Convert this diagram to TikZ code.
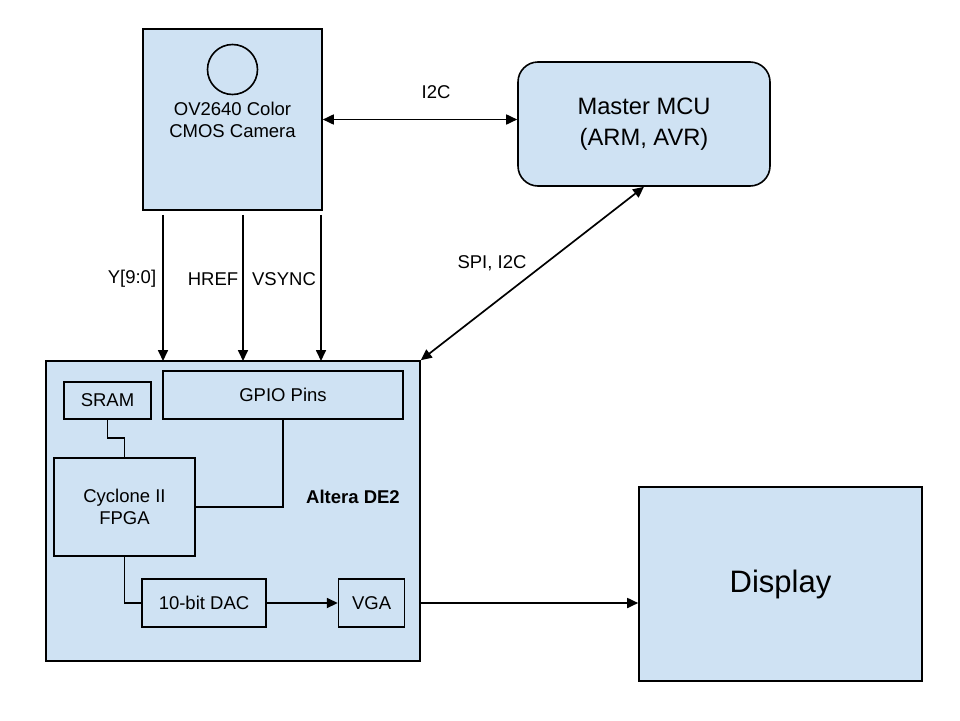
\documentclass[tikz,border=0pt]{standalone}
\usepackage{fontspec}
\setmainfont{Liberation Sans}
\usetikzlibrary{arrows.meta,positioning}
\definecolor{boxblue}{HTML}{CFE2F3}
\tikzset{
  blk/.style={draw,fill=boxblue,line width=1.6pt,inner sep=0pt,align=center,font=\fontsize{18.5}{22}\selectfont},
  lbl/.style={font=\fontsize{18.5}{22}\selectfont},
  wire/.style={line width=1.7pt},
  sig/.style={wire,-{Triangle[length=11pt,width=10pt]}},
  bisig/.style={wire,{Triangle[length=11pt,width=10pt]}-{Triangle[length=11pt,width=10pt]}}
}

\begin{document}
\begin{tikzpicture}[x=1pt,y=-1pt]
            \useasboundingbox (0,0) rectangle (960,720);
                \node[blk,minimum width=179pt,minimum height=181pt] (cam) at (232.5,119.5) {OV2640 Color\\CMOS Camera};
                \node[draw,circle,line width=1.6pt,minimum size=50pt,inner sep=0pt] (lens) at (232.5,69.5) {};
                \node[blk,rounded corners=20pt,minimum width=252pt,minimum height=124pt,font=\fontsize{23.7}{31}\selectfont] (mcu) at (644,124) {Master MCU\\(ARM, AVR)};
                \node[blk,minimum width=374pt,minimum height=300pt] (de2) at (233,511) {};
                \node[lbl,font=\fontsize{18.5}{22}\selectfont\bfseries] (de2lbl) at (353,497) {Altera DE2};
                \node[blk,minimum width=240pt,minimum height=48pt] (gpio) at (283,395) {GPIO Pins};
                \node[blk,minimum width=87pt,minimum height=37pt] (sram) at (107.5,400.5) {SRAM};
                \node[blk,minimum width=141pt,minimum height=98pt] (cyc) at (124.5,507) {Cyclone II\\FPGA};
                \node[blk,minimum width=124pt,minimum height=48pt] (dac) at (204,603) {10-bit DAC};
                \node[blk,minimum width=66pt,minimum height=48pt,right=71pt of dac] (vga) {VGA};
                \node[blk,minimum width=283pt,minimum height=194pt,font=\fontsize{31}{36}\selectfont] (disp) at (780.5,584) {Display};
                \coordinate (pY) at (163,361);
                \coordinate (pH) at (243,361);
                \coordinate (pV) at (321,361);
                \node[lbl] (yl) at (132,279) {Y[9:0]};
                \node[lbl] (hl) at (213,279) {HREF};
                \node[lbl] (vl) at (284,279) {VSYNC};
                \node[lbl] (i2cl) at (436,92) {I2C};
                \node[lbl] (spil) at (492,263) {SPI, I2C};
                \draw[bisig] (cam.east) -- (cam.east -| mcu.west);
                \draw[bisig] (mcu.south) -- (de2.north east);
                \draw[sig,shorten <=4pt] (cam.south -| pY) -- (pY);
                \draw[sig,shorten <=4pt] (cam.south -| pH) -- (pH);
                \draw[sig,shorten <=4pt] (cam.south -| pV) -- (pV);
                \draw[wire] (sram.south) -- ++(0,18) -| (cyc.north);
                \draw[wire] (gpio.south) |- (cyc.east);
                \draw[wire] (cyc.south) |- (dac.west);
                \draw[sig] (dac) -- (vga);
                \draw[sig] (vga.east -| de2.east) -- (vga.east -| disp.west);
        \end{tikzpicture}
\end{document}
